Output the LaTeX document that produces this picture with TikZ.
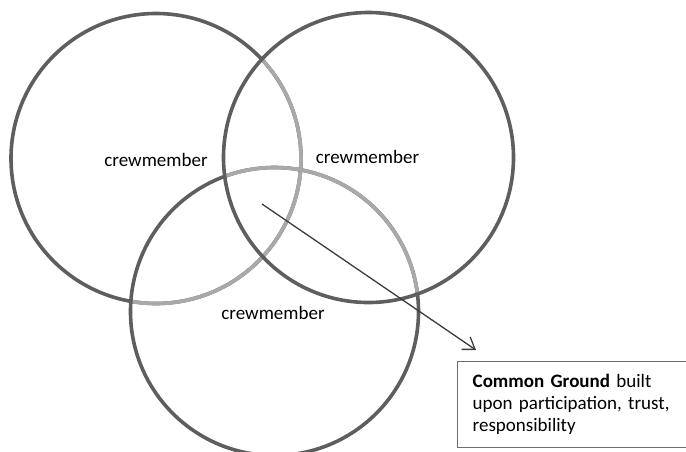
\documentclass[tikz,border=0pt]{standalone}
\usepackage{fontspec}
\setmainfont{Carlito}
\usetikzlibrary{arrows.meta}
\definecolor{ringdark}{HTML}{5E5E5E}
\definecolor{ringlight}{HTML}{A9A9A9}
\definecolor{arrowgray}{HTML}{3C3C3C}
\definecolor{boxgray}{HTML}{6E6E6E}
\begin{document}
\begin{tikzpicture}[x=1pt,y=-1pt,
  ring/.style={line width=3.6pt, draw=ringdark},
  ringfaint/.style={line width=3.6pt, draw=ringlight},
  member/.style={font=\fontsize{19}{22}\selectfont, inner sep=0pt, anchor=base},
  pointer/.style={line width=1.3pt, draw=arrowgray, -{Straight Barb[length=11pt,width=15pt,line width=1.3pt]}},
  notebox/.style={draw=boxgray, line width=1.4pt, fill=white, text width=205pt, align=left,
    inner xsep=15pt, minimum height=86pt, font=\fontsize{19}{22}\selectfont}]
\useasboundingbox (0,0) rectangle (686,451);

% centres of the three crew circles
\coordinate (ca) at (156,158.5);
\coordinate (cb) at (368.5,157.5);
\coordinate (cc) at (274.5,311.5);

% left circle, faded where it passes under the other two
\draw[ring] (ca) circle[radius=145];
\begin{scope}
  \clip (cb) circle[radius=145];
  \draw[ringfaint] (ca) circle[radius=145];
\end{scope}
\begin{scope}
  \clip (cc) circle[radius=144];
  \draw[ringfaint] (ca) circle[radius=145];
\end{scope}

% lower circle, faded where it passes under the right one
\draw[ring] (cc) circle[radius=144];
\begin{scope}
  \clip (cb) circle[radius=145];
  \draw[ringfaint] (cc) circle[radius=144];
\end{scope}

% right circle on top
\draw[ring] (cb) circle[radius=145];

% labels
\node[member] (ma) at (156,166.5) {crewmember};
\node[member] (mb) at (367.5,163) {crewmember};
\node[member] (mc) at (273,319) {crewmember};

% common ground note (runs off the right edge) and its pointer
\node[notebox, anchor=north west] (note) at (457,361)
  {\textbf{Common Ground} built\\upon participation, trust,\\responsibility};
\coordinate (cg) at (262,204);
\coordinate (tip) at (476,350);
\draw[pointer] (cg) -- (tip);
\end{tikzpicture}
\end{document}
